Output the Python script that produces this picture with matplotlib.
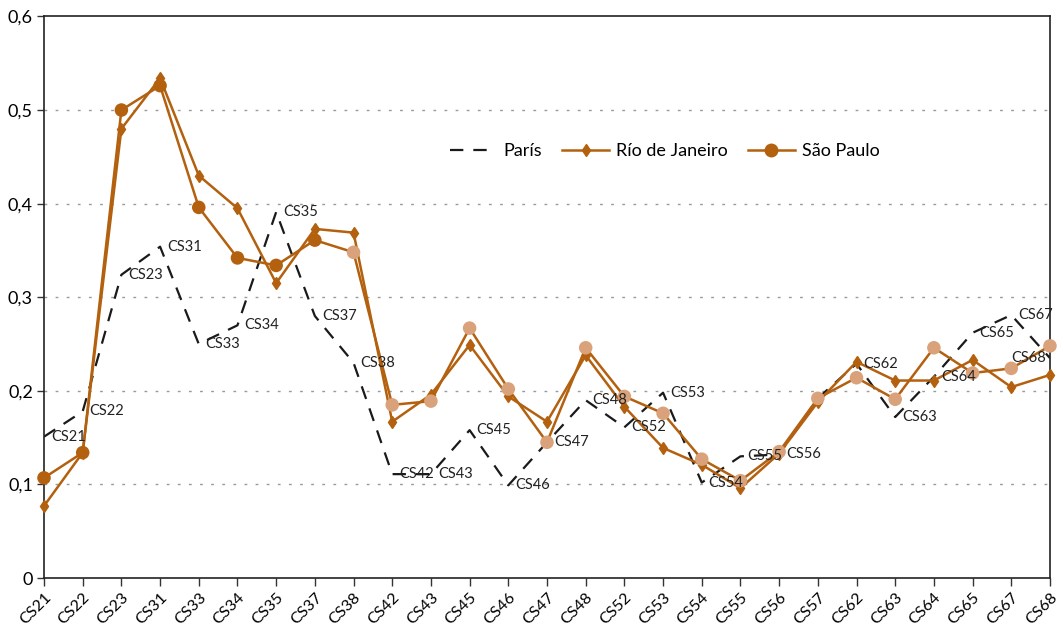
import matplotlib
matplotlib.use("Agg")
import matplotlib.pyplot as plt
import numpy as np

# =========================
# Data
# =========================
categories = ["CS21", "CS22", "CS23", "CS31", "CS33", "CS34", "CS35", "CS37", "CS38",
              "CS42", "CS43", "CS45", "CS46", "CS47", "CS48", "CS52", "CS53", "CS54",
              "CS55", "CS56", "CS57", "CS62", "CS63", "CS64", "CS65", "CS67", "CS68"]

paris = [0.151, 0.178, 0.324, 0.354, 0.250, 0.270, 0.391, 0.280, 0.230,
         0.111, 0.111, 0.158, 0.099, 0.145, 0.190, 0.161, 0.198, 0.102,
         0.130, 0.132, 0.192, 0.229, 0.172, 0.215, 0.262, 0.281, 0.235]

rio = [0.077, 0.134, 0.480, 0.534, 0.430, 0.395, 0.315, 0.373, 0.369,
       0.167, 0.196, 0.249, 0.194, 0.167, 0.238, 0.183, 0.139, 0.121,
       0.096, 0.133, 0.188, 0.231, 0.211, 0.211, 0.233, 0.204, 0.217]

sao_paulo = [0.107, 0.134, 0.500, 0.526, 0.396, 0.342, 0.334, 0.361, 0.348,
             0.185, 0.189, 0.267, 0.202, 0.145, 0.246, 0.194, 0.176, 0.127,
             0.104, 0.135, 0.192, 0.214, 0.191, 0.246, 0.219, 0.224, 0.248]

# Paris points that carry a data label in the reference (CS57 has none)
paris_labelled = [c for c in categories if c != "CS57"]

y_ticks = [0, 0.1, 0.2, 0.3, 0.4, 0.5, 0.6]
y_ticklabels = ["0", "0,1", "0,2", "0,3", "0,4", "0,5", "0,6"]

# =========================
# Style
# =========================
plt.rcParams['font.family'] = ['Lato', 'DejaVu Sans']
brown = "#B3600F"
tan = "#D9A27A"
n_dark = 8  # first SP markers are dark, the rest tan

fig = plt.figure(figsize=(10.58, 6.32), dpi=100)
ax = fig.add_axes([0.0416, 0.0854, 0.9508, 0.8886])

x = np.arange(len(categories))

# París
ax.plot(x, paris, color="#1a1a1a", linestyle=(0, (6, 4.5)), linewidth=1.6,
        label="París", zorder=2)

# Río de Janeiro
ax.plot(x, rio, color=brown, linewidth=1.8, marker="d", markersize=6,
        markerfacecolor=brown, markeredgecolor=brown, label="Río de Janeiro",
        zorder=3, clip_on=False)

# São Paulo: line, then markers in two colours
ax.plot(x, sao_paulo, color=brown, linewidth=1.8, zorder=3, clip_on=False)
sp_colors = [brown if i < n_dark else tan for i in range(len(categories))]
ax.scatter(x, sao_paulo, s=95, c=sp_colors, zorder=4, clip_on=False, linewidths=0)
ax.plot([], [], color=brown, linewidth=1.8, marker="o", markersize=9,
        label="São Paulo")

# data labels for París (category names, right of the point; last one to the left)
last = len(categories) - 1
for i, c in enumerate(categories):
    if c not in paris_labelled:
        continue
    if i == last:
        ax.annotate(c, (x[i], paris[i]), xytext=(-3, 0), textcoords="offset points",
                    ha="right", va="center", fontsize=10.5, color="#222222", zorder=5)
    else:
        ax.annotate(c, (x[i], paris[i]), xytext=(5, 0), textcoords="offset points",
                    ha="left", va="center", fontsize=10.5, color="#222222", zorder=5)

# axes
ax.set_xlim(0, last)
ax.set_ylim(0, 0.6)
ax.set_yticks(y_ticks)
ax.set_yticklabels(y_ticklabels, fontsize=13)
ax.set_xticks(x)
ax.set_xticklabels(categories, rotation=45, ha="right", rotation_mode="anchor",
                   fontsize=11.5)
ax.tick_params(axis="x", length=6, width=1, color="#333333", pad=3)
ax.tick_params(axis="y", length=5, width=1, color="#333333", pad=3)

for s in ax.spines.values():
    s.set_color("#222222")
    s.set_linewidth(1.2)

for yv in y_ticks[1:-1]:
    ax.axhline(yv, color="#9a9a9a", linestyle=(0, (2, 6)), linewidth=1, zorder=1)

ax.legend(loc="center", bbox_to_anchor=(0.617, 0.76), ncol=3, frameon=False,
          fontsize=13, handlelength=2.6, columnspacing=1.1, handletextpad=0.4)

fig.savefig("out.png", dpi=100)
